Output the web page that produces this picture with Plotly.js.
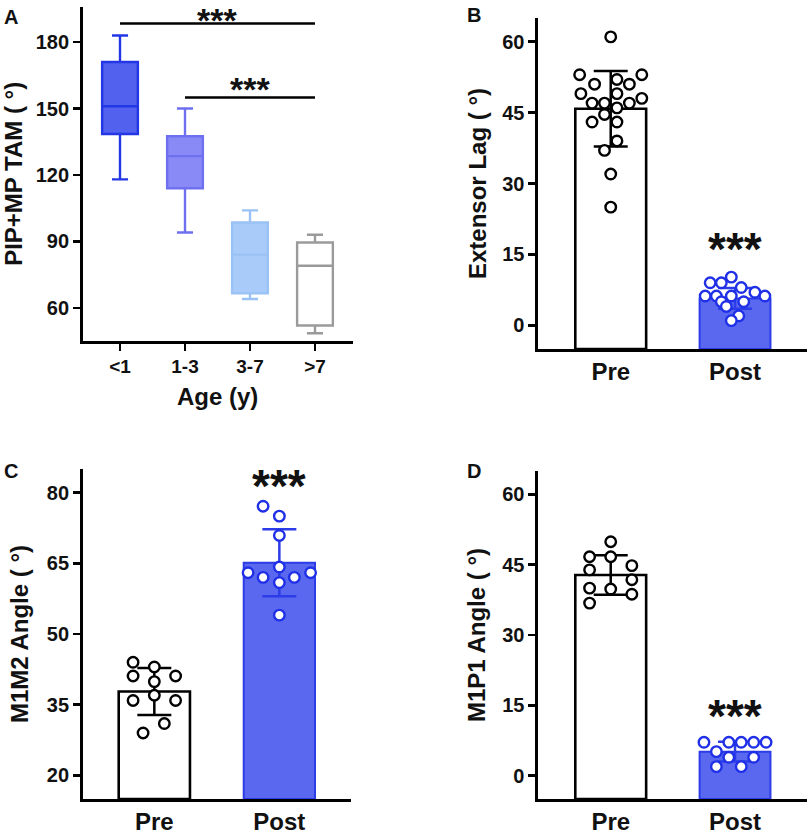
<!DOCTYPE html>
<html>
<head>
<meta charset="utf-8">
<script src="https://cdn.plot.ly/plotly-3.0.1.min.js"></script>
<style>html,body{margin:0;padding:0;background:#fff;}#chart{width:810px;height:836px;}</style>
</head>
<body>
<div id="chart"></div>
<script>
// ---------- Panel A: PIP+MP TAM by age (box summaries) ----------
const ageGroups = ['<1', '1-3', '3-7', '>7'];
const tamLowerWhisker = [118, 94, 64, 48.5];
const tamQ1 = [138.5, 114, 66.5, 52];
const tamMedian = [151, 128.5, 84, 79];
const tamQ3 = [171, 137.5, 98.5, 89.5];
const tamUpperWhisker = [183, 150, 104, 93];

// ---------- Panels B-D: Pre / Post ----------
const groups = ['Pre', 'Post'];

// B: Extensor lag
const extLagMean = [45.8, 5.7];
const extLagSD = [8.0, 2.2];
const extLagPre = [61, 53, 53, 52, 51, 51, 49, 49, 48, 47, 47, 47, 46, 44.6, 43, 43, 39, 37, 32, 25];
const extLagPreJitter = [0, -0.25, 0.25, 0.05, -0.13, 0.15, -0.24, 0.05, 0.25, -0.15, -0.05, 0.15, 0.05, -0.05, -0.15, 0.05, 0.05, -0.05, 0, 0];
const extLagPost = [10.2, 9, 9, 8, 7, 6.2, 6.2, 6.2, 6.2, 5, 5, 4, 2, 1];
const extLagPostJitter = [-0.03, -0.2, -0.11, 0.05, 0.16, 0.24, -0.24, -0.15, -0.03, 0.07, -0.11, -0.07, 0.03, -0.03];

// C: M1M2 angle
const m1m2Mean = [37.8, 65.1];
const m1m2SD = [5.0, 7.1];
const m1m2Pre = [44, 43, 41.1, 41.1, 39.9, 37, 35.9, 35.9, 31, 29];
const m1m2PreJitter = [-0.17, 0, -0.17, 0.17, 0, 0, -0.17, 0.17, 0.08, -0.09];
const m1m2Post = [77.1, 75, 70.9, 64.2, 63, 63, 62, 62, 60.9, 54];
const m1m2PostJitter = [-0.13, 0, 0, 0, -0.25, 0.25, -0.13, 0.12, 0, 0];

// D: M1P1 angle
const m1p1Mean = [42.8, 5.1];
const m1p1SD = [4.2, 2.1];
const m1p1Pre = [49.9, 46.7, 46.7, 44.8, 43.9, 41.8, 40, 39.8, 38.7, 36.8];
const m1p1PreJitter = [0, -0.17, 0, 0.17, -0.17, 0.17, -0.17, 0, 0.17, -0.17];
const m1p1Post = [7.1, 7.1, 7.1, 7.1, 7.1, 5.1, 3.9, 3.9, 1.9, 1.9];
const m1p1PostJitter = [-0.25, -0.05, 0.05, 0.15, 0.25, -0.15, -0.05, 0.15, -0.15, 0.05];

// ---------- styling ----------
const FONT = 'Liberation Sans, Arial, Helvetica, sans-serif';
const boxFill = ['#5262EE', '#8A8AF6', '#A9CBFA', '#FFFFFF'];
const boxLine = ['#2236E6', '#6E70F0', '#9BC2F5', '#9A9A9A'];
const postFill = '#5A68F0';
const postLine = '#2B3CE8';
const postMarkerLine = '#1F30E6';

const rangeA = [45, 196];
const rangeB = [-5, 65];
const rangeC = [15, 85];
const rangeD = [-5, 65];

const traces = [];

// Panel A boxes
ageGroups.forEach((g, i) => {
  traces.push({
    type: 'box', xaxis: 'x', yaxis: 'y', name: g,
    x: [i], q1: [tamQ1[i]], median: [tamMedian[i]], q3: [tamQ3[i]],
    lowerfence: [tamLowerWhisker[i]], upperfence: [tamUpperWhisker[i]],
    width: 0.55, whiskerwidth: 0.45, boxpoints: false,
    fillcolor: boxFill[i], line: {color: boxLine[i], width: 2.4},
    hoverinfo: 'skip', showlegend: false
  });
});

// bars are drawn up from the bottom of the axis, as in the original figure
function addPanel(ax, yr, means, sds, preVals, preJit, postVals, postJit) {
  const xa = 'x' + ax, ya = 'y' + ax;
  const base = yr[0];
  traces.push({
    type: 'bar', xaxis: xa, yaxis: ya, x: [0], y: [means[0] - base], base: [base], width: 0.57,
    marker: {color: '#FFFFFF', line: {color: '#000000', width: 2.6}},
    error_y: {type: 'data', array: [sds[0]], color: '#000000', thickness: 2.5, width: 17},
    showlegend: false, hoverinfo: 'skip'
  });
  traces.push({
    type: 'bar', xaxis: xa, yaxis: ya, x: [1], y: [means[1] - base], base: [base], width: 0.57,
    marker: {color: postFill, line: {color: postLine, width: 2}},
    error_y: {type: 'data', array: [sds[1]], color: postLine, thickness: 2.5, width: 17},
    showlegend: false, hoverinfo: 'skip'
  });
  traces.push({
    type: 'scatter', mode: 'markers', xaxis: xa, yaxis: ya,
    x: preVals.map((v, i) => 0 + preJit[i]), y: preVals,
    marker: {size: 10.5, color: '#FFFFFF', line: {color: '#000000', width: 2.4}},
    showlegend: false, hoverinfo: 'skip'
  });
  traces.push({
    type: 'scatter', mode: 'markers', xaxis: xa, yaxis: ya,
    x: postVals.map((v, i) => 1 + postJit[i]), y: postVals,
    marker: {size: 10.5, color: '#FFFFFF', line: {color: postMarkerLine, width: 2.4}},
    showlegend: false, hoverinfo: 'skip'
  });
}
addPanel('2', rangeB, extLagMean, extLagSD, extLagPre, extLagPreJitter, extLagPost, extLagPostJitter);
addPanel('3', rangeC, m1m2Mean, m1m2SD, m1m2Pre, m1m2PreJitter, m1m2Post, m1m2PostJitter);
addPanel('4', rangeD, m1p1Mean, m1p1SD, m1p1Pre, m1p1PreJitter, m1p1Post, m1p1PostJitter);

const tickFont = {family: FONT, size: 20, color: '#111', weight: 'bold'};
const titleFont = {family: FONT, size: 24, color: '#111', weight: 'bold'};

function xAxis(domain, range, tickvals, ticktext, anchor, size, withTicks) {
  return {
    domain: domain, range: range, anchor: anchor,
    tickvals: tickvals, ticktext: ticktext,
    showline: true, linecolor: '#000', linewidth: 2.6,
    ticks: withTicks ? 'outside' : '', ticklen: 7, tickwidth: 2.5, tickcolor: '#000',
    showgrid: false, zeroline: false, fixedrange: true,
    tickfont: Object.assign({}, tickFont, {size: size})
  };
}
function yAxis(domain, range, tickvals, title, anchor, standoff) {
  return {
    domain: domain, range: range, anchor: anchor,
    tickvals: tickvals,
    showline: true, linecolor: '#000', linewidth: 2.6,
    ticks: 'outside', ticklen: 7, tickwidth: 2.5, tickcolor: '#000',
    showgrid: false, zeroline: false, fixedrange: true,
    tickfont: tickFont,
    title: {text: title, font: titleFont, standoff: standoff}
  };
}

const xA = xAxis([0.1021, 0.4354], [-0.574, 3.58], [0, 1, 2, 3], ageGroups, 'y', 19, true);
xA.title = {text: 'Age (y)', font: titleFont, standoff: 12};
const starFontBig = {family: FONT, size: 46, color: '#111'};
const starFontSmall = {family: FONT, size: 34, color: '#111'};
const letterFont = {family: FONT, size: 20, color: '#111'};
const layout = {
  width: 810, height: 836,
  margin: {l: 0, r: 0, t: 0, b: 0},
  paper_bgcolor: '#fff', plot_bgcolor: 'rgba(0,0,0,0)',
  showlegend: false, boxmode: 'overlay', barmode: 'overlay',
  font: {family: FONT, color: '#111'},
  xaxis: xA,
  yaxis: yAxis([0.5921, 0.992], rangeA, [60, 90, 120, 150, 180], 'PIP+MP TAM ( °)', 'x', 18),
  xaxis2: xAxis([0.6642, 0.9963], [-0.585, 1.579], [0, 1], groups, 'y2', 24, false),
  yaxis2: yAxis([0.5825, 0.9785], rangeB, [0, 15, 30, 45, 60], 'Extensor Lag ( °)', 'x2', 9),
  xaxis3: xAxis([0.1021, 0.433], [-0.573, 1.571], [0, 1], groups, 'y3', 24, false),
  yaxis3: yAxis([0.0443, 0.439], rangeC, [20, 35, 50, 65, 80], 'M1M2 Angle ( °)', 'x3', 12),
  xaxis4: xAxis([0.6642, 0.9963], [-0.585, 1.579], [0, 1], groups, 'y4', 24, false),
  yaxis4: yAxis([0.0443, 0.4366], rangeD, [0, 15, 30, 45, 60], 'M1P1 Angle ( °)', 'x4', 10),
  shapes: [
    {type: 'line', xref: 'x', yref: 'y', x0: 0, x1: 3, y0: 188.4, y1: 188.4, line: {color: '#000', width: 2.4}},
    {type: 'line', xref: 'x', yref: 'y', x0: 1, x1: 3, y0: 155, y1: 155, line: {color: '#000', width: 2.4}}
  ],
  annotations: [
    {text: '<b>A</b>', xref: 'paper', yref: 'paper', x: 2 / 810, y: 1 - 4 / 836, xanchor: 'left', yanchor: 'top', showarrow: false, font: letterFont},
    {text: '<b>B</b>', xref: 'paper', yref: 'paper', x: 465 / 810, y: 1 - 2 / 836, xanchor: 'left', yanchor: 'top', showarrow: false, font: letterFont},
    {text: '<b>C</b>', xref: 'paper', yref: 'paper', x: 2 / 810, y: 1 - 458 / 836, xanchor: 'left', yanchor: 'top', showarrow: false, font: letterFont},
    {text: '<b>D</b>', xref: 'paper', yref: 'paper', x: 465 / 810, y: 1 - 458 / 836, xanchor: 'left', yanchor: 'top', showarrow: false, font: letterFont},
    {text: '<b>***</b>', xref: 'x', yref: 'paper', x: 1.5, y: 1, yanchor: 'top', borderpad: 0, showarrow: false, font: starFontSmall},
    {text: '<b>***</b>', xref: 'x', yref: 'y', x: 2, y: 158.8, yanchor: 'middle', showarrow: false, font: starFontSmall},
    {text: '<b>***</b>', xref: 'x2', yref: 'y2', x: 1, y: 16.1, yanchor: 'middle', showarrow: false, font: starFontBig},
    {text: '<b>***</b>', xref: 'x3', yref: 'y3', x: 1, y: 81.3, yanchor: 'middle', showarrow: false, font: starFontBig},
    {text: '<b>***</b>', xref: 'x4', yref: 'y4', x: 1, y: 12.7, yanchor: 'middle', showarrow: false, font: starFontBig}
  ]
};

Plotly.newPlot('chart', traces, layout, {staticPlot: true, displayModeBar: false});
</script>
</body>
</html>
